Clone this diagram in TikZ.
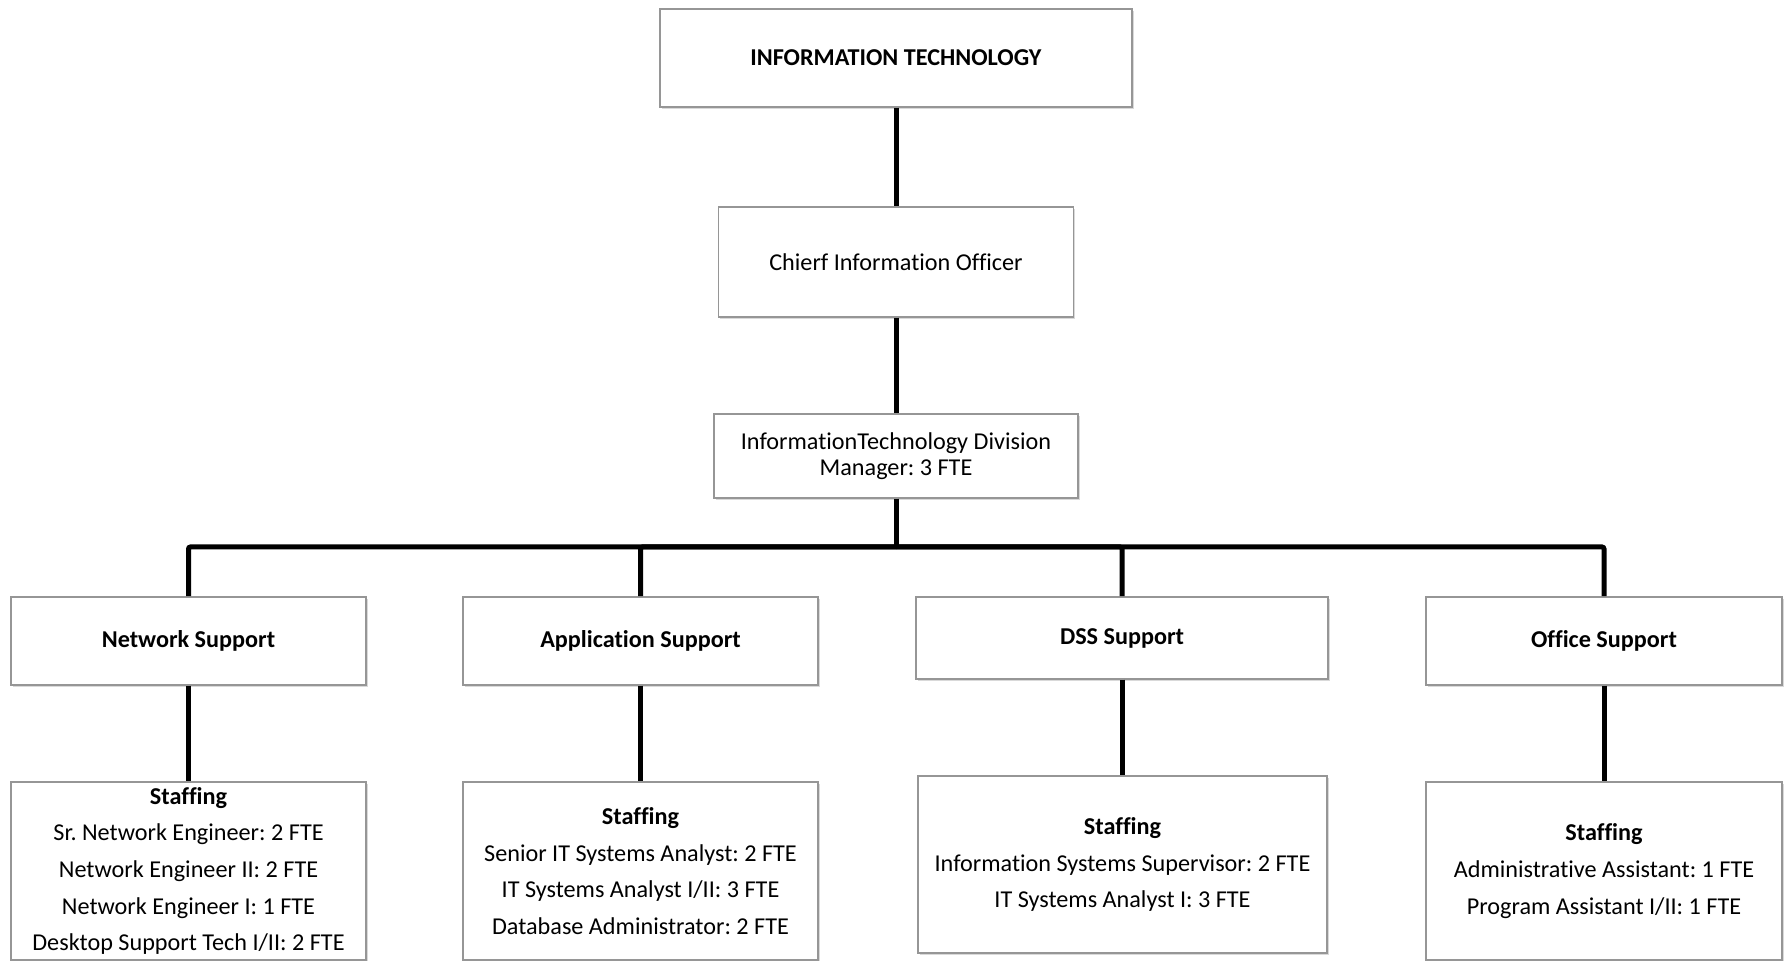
\documentclass[tikz,border=0pt]{standalone}
\usepackage{fontspec}
\setmainfont{Carlito}[RawFeature={-liga;-clig;-calt;-dlig}]
\usetikzlibrary{shadows}
\definecolor{boxgray}{RGB}{150,150,150}
\frenchspacing
\begin{document}
\begin{tikzpicture}[x=0.5pt, y=-0.5pt,
    unit/.style={draw=boxgray, line width=0.75pt, fill=white, inner sep=0pt, align=center,
      font=\fontsize{12.1}{13}\selectfont,
      drop shadow={shadow xshift=0.8pt, shadow yshift=-1.2pt, opacity=0.3}},
    staff/.style={unit, font=\fontsize{12.1}{18.3}\selectfont},
    link/.style={line width=2.5pt}]
    \useasboundingbox (0,0) rectangle (1784,961);
    \node[unit, minimum width=236pt, minimum height=49pt] (it) at (896,58) {\textbf{INFORMATION TECHNOLOGY}};
    \node[unit, minimum width=177.5pt, minimum height=55pt] (cio) at (896,262) {Chierf Information Officer};
    \node[unit, minimum width=182pt, minimum height=42pt] (div) at (896,456) {InformationTechnology Division\\Manager: 3 FTE};
    \node[unit, minimum width=177.5pt, minimum height=44pt] (net) at (188.5,641) {\textbf{Network Support}};
    \node[unit, minimum width=177.5pt, minimum height=44pt] (app) at (640.5,641) {\textbf{Application Support}};
    \node[unit, minimum width=206pt, minimum height=41pt] (dss) at (1122,638) {\textbf{DSS Support}};
    \node[unit, minimum width=178pt, minimum height=44pt] (off) at (1604,641) {\textbf{Office Support}};
    \node[staff, minimum width=177.5pt, minimum height=89pt] (netstaff) at (188.5,871) {\textbf{Staffing}\\Sr. Network Engineer: 2 FTE\\Network Engineer II: 2 FTE\\Network Engineer I: 1 FTE\\Desktop Support Tech I/II: 2 FTE};
    \node[staff, minimum width=177.5pt, minimum height=89pt] (appstaff) at (640.5,871) {\textbf{Staffing}\\Senior IT Systems Analyst: 2 FTE\\IT Systems Analyst I/II: 3 FTE\\Database Administrator: 2 FTE};
    \node[staff, minimum width=204.5pt, minimum height=88.5pt] (dssstaff) at (1122.5,864.5) {\textbf{Staffing}\\Information Systems Supervisor: 2 FTE\\IT Systems Analyst I: 3 FTE};
    \node[staff, minimum width=178pt, minimum height=89pt] (offstaff) at (1604,871) {\textbf{Staffing}\\Administrative Assistant: 1 FTE\\Program Assistant I/II: 1 FTE};
    \coordinate (bus) at (896,547);
    \draw[link] (it.south) -- (it.south |- cio.north);
    \draw[link] (cio.south) -- (cio.south |- div.north);
    \draw[link] (div.south) -- (bus);
    \foreach \c in {net,app,dss,off} {
        \draw[link, rounded corners=1pt] (bus) -| (\c.north);
        \draw[link] (\c.south) -- (\c.south |- \c staff.north);
    }
\end{tikzpicture}
\end{document}
